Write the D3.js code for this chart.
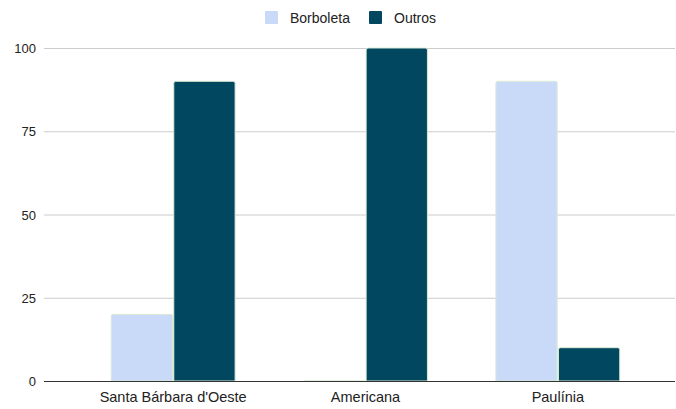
<!DOCTYPE html>
<html>
<head>
<meta charset="utf-8">
<script src="https://cdn.jsdelivr.net/npm/d3@7"></script>
<style>
  body { margin: 0; background: #fff; }
  text { font-family: "Liberation Sans", Arial, sans-serif; }
</style>
</head>
<body>
<svg id="chart" width="676" height="409"></svg>
<script>
var categories = ["Santa Bárbara d'Oeste", "Americana", "Paulínia"];
var seriesNames = ["Borboleta", "Outros"];
var borboleta = [20, 0, 90];
var outros = [90, 100, 10];
var yTicks = [0, 25, 50, 75, 100];
var colors = ["#c9daf8", "#01475f"];

var svg = d3.select("#chart");
var plot = {left: 44, right: 675, top: 48, bottom: 381};

var x0 = d3.scaleBand()
    .domain(categories)
    .range([77, 654])
    .paddingInner(0.356)
    .paddingOuter(0.178);

var x1 = d3.scaleBand()
    .domain(seriesNames)
    .range([0, x0.bandwidth()])
    .paddingInner(0.02);

var y = d3.scaleLinear()
    .domain([0, 100])
    .range([plot.bottom, plot.top]);

// gridlines
svg.append("g").selectAll("line")
    .data(yTicks.filter(function (d) { return d > 0; }))
    .enter().append("line")
    .attr("x1", plot.left).attr("x2", plot.right)
    .attr("y1", function (d) { return y(d) + 0.5; })
    .attr("y2", function (d) { return y(d) + 0.5; })
    .attr("stroke", "#cccccc")
    .attr("stroke-width", 1);

// y tick labels
svg.append("g").selectAll("text")
    .data(yTicks)
    .enter().append("text")
    .attr("x", 36)
    .attr("y", function (d) { return y(d) + 5; })
    .attr("text-anchor", "end")
    .attr("font-size", 13)
    .attr("fill", "#222")
    .text(function (d) { return d; });

// bars
var rows = categories.map(function (c, i) {
    return {cat: c, vals: [borboleta[i], outros[i]]};
});

function barPath(xa, w, top, bottom) {
    var r = Math.min(2, (bottom - top));
    return "M" + xa + "," + bottom +
        "V" + (top + r) +
        "Q" + xa + "," + top + " " + (xa + r) + "," + top +
        "H" + (xa + w - r) +
        "Q" + (xa + w) + "," + top + " " + (xa + w) + "," + (top + r) +
        "V" + bottom + "Z";
}

var group = svg.append("g").selectAll("g")
    .data(rows)
    .enter().append("g")
    .attr("transform", function (d) { return "translate(" + x0(d.cat) + ",0)"; });

group.selectAll("path")
    .data(function (d) {
        return d.vals.map(function (v, j) { return {name: seriesNames[j], value: v, idx: j}; });
    })
    .enter().append("path")
    .attr("d", function (d) {
        return barPath(x1(d.name), x1.bandwidth(), y(d.value), y(0));
    })
    .attr("fill", function (d) { return colors[d.idx]; })
    .attr("stroke", "#d9ead3")
    .attr("stroke-width", 1);

// baseline
svg.append("line")
    .attr("x1", plot.left).attr("x2", plot.right)
    .attr("y1", plot.bottom + 0.5).attr("y2", plot.bottom + 0.5)
    .attr("stroke", "#333")
    .attr("stroke-width", 1);

// x labels
svg.append("g").selectAll("text")
    .data(categories)
    .enter().append("text")
    .attr("x", function (d) { return x0(d) + x0.bandwidth() / 2; })
    .attr("y", 402)
    .attr("text-anchor", "middle")
    .attr("font-size", 14.5)
    .attr("fill", "#222")
    .text(function (d) { return d; });

// legend
var legendX = [265, 369];
var legend = svg.append("g").selectAll("g")
    .data(seriesNames)
    .enter().append("g")
    .attr("transform", function (d, i) { return "translate(" + legendX[i] + ",11)"; });

legend.append("rect")
    .attr("width", 13).attr("height", 13)
    .attr("rx", 1)
    .attr("fill", function (d, i) { return colors[i]; });

legend.append("text")
    .attr("x", 25)
    .attr("y", 11.5)
    .attr("font-size", 14)
    .attr("fill", "#222")
    .text(function (d) { return d; });
</script>
</body>
</html>
